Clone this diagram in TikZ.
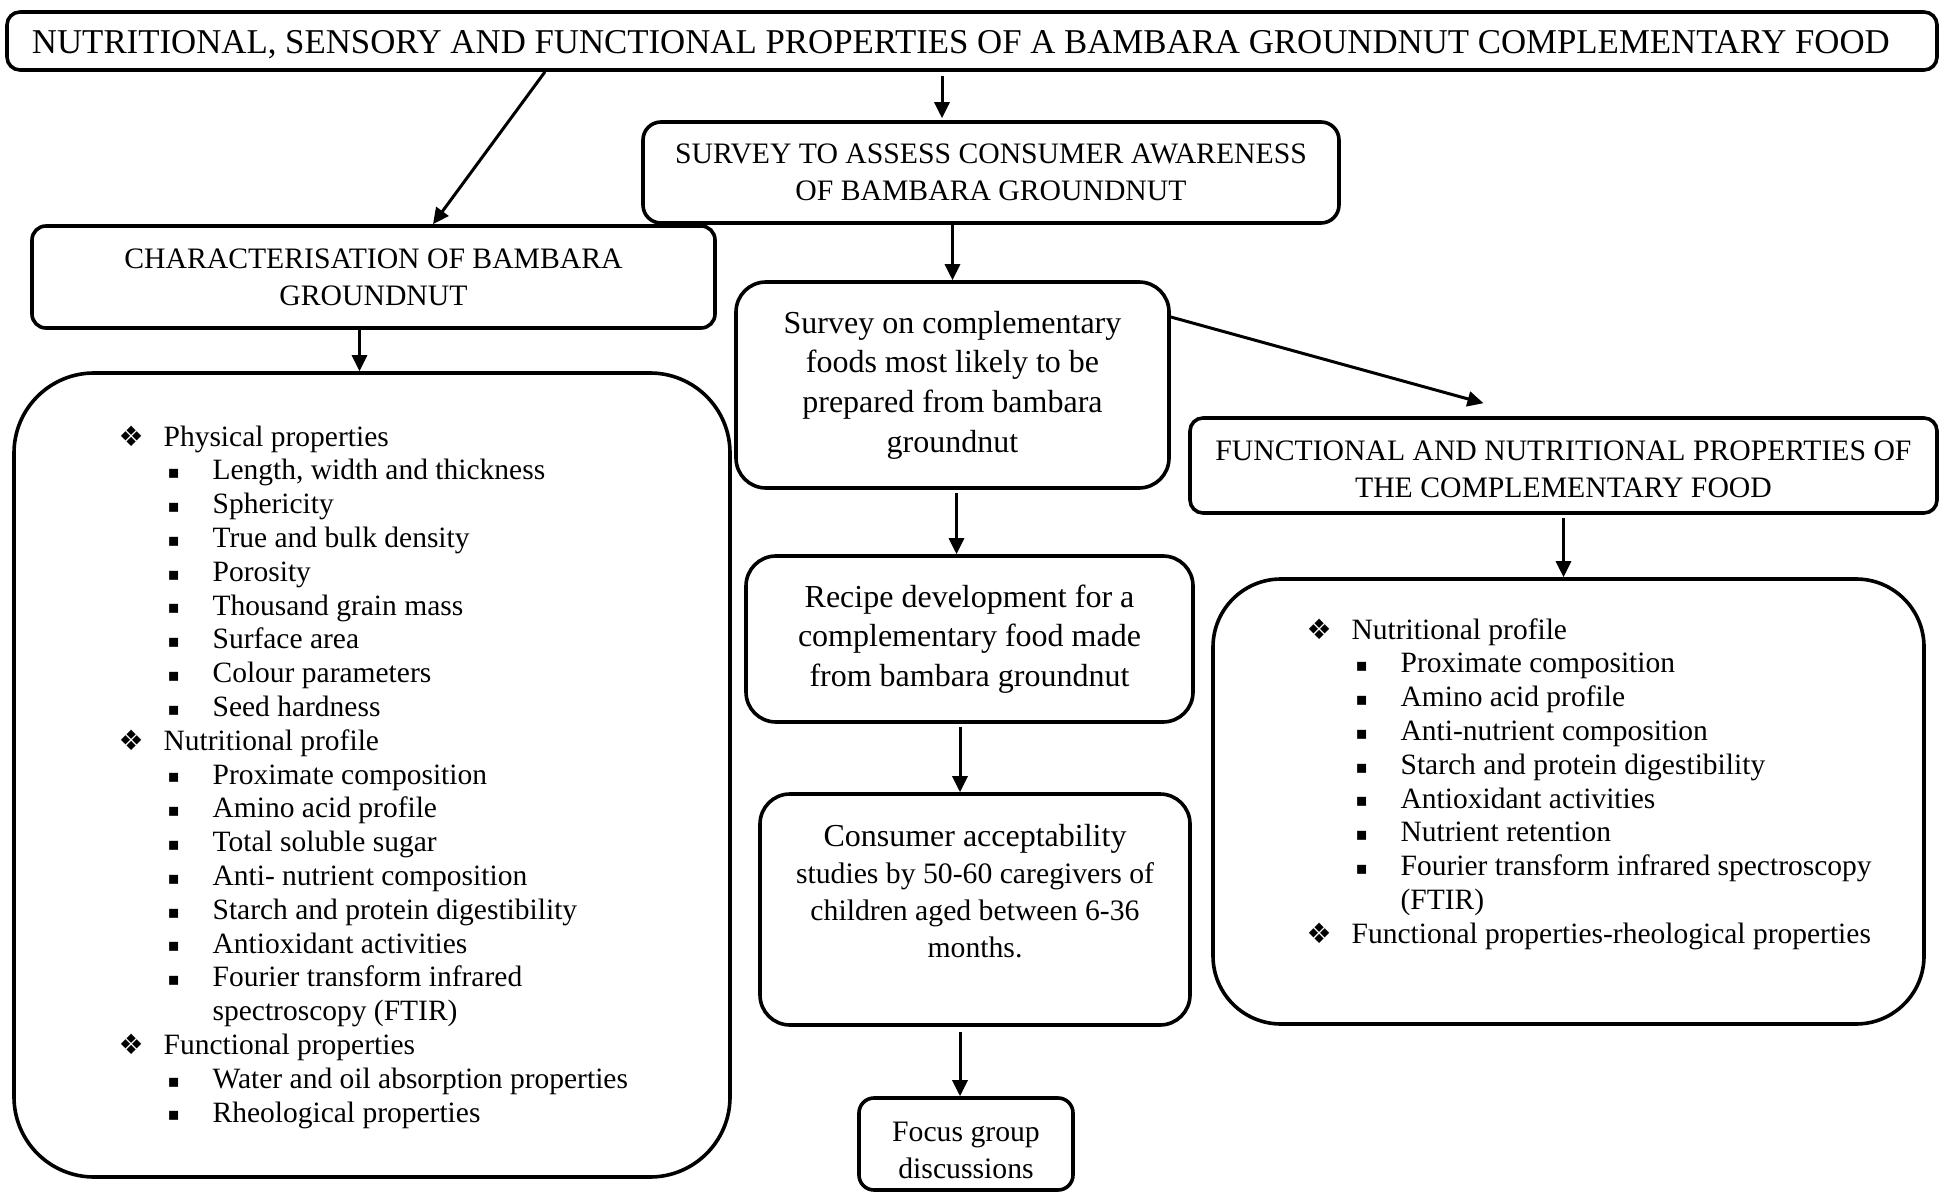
\documentclass[tikz,border=0pt]{standalone}
\usepackage{fontspec}
\setmainfont{Liberation Serif}
\newfontfamily\symfont{DejaVu Sans}
\usetikzlibrary{arrows.meta, positioning}

\newcommand{\itemA}[1]{\makebox[22.5pt][l]{\symfont\fontsize{14}{14}\selectfont ❖}#1}
\newcommand{\itemB}[1]{\hspace*{24.5pt}\makebox[22.5pt][l]{\raisebox{0.6pt}{\symfont\fontsize{9}{9}\selectfont ▪}}#1}
\newcommand{\sinktext}[2]{\raisebox{-#1}[\height][\depth]{#2}}

\tikzset{
    box/.style={draw, line width=1.8pt, rounded corners=7pt, align=center, inner sep=0pt,
        font=\fontsize{14.85}{18.5}\selectfont},
    bigbox/.style={box, rounded corners=15pt, font=\fontsize{16}{19.8}\selectfont},
    itemlist/.style={align=left, inner sep=0pt, font=\fontsize{14.75}{16.9}\selectfont},
    arr/.style={line width=1.5pt, -{Triangle[length=8pt, width=7.5pt]}}
}

\begin{document}
\begin{tikzpicture}[x=0.5pt, y=-0.5pt]
\useasboundingbox (0,0) rectangle (1939,1192);

% top row
\node[box, font=\fontsize{17.4}{20}\selectfont, rounded corners=6.5pt, minimum width=965pt, minimum height=29pt] (title) at (972,41)
    {\hspace*{-11pt}\sinktext{2pt}{NUTRITIONAL, SENSORY AND FUNCTIONAL PROPERTIES OF A BAMBARA GROUNDNUT COMPLEMENTARY FOOD}};
\node[box, rounded corners=9pt, minimum width=348pt, minimum height=50.5pt] (survey) at (991,172.5)
    {SURVEY TO ASSESS CONSUMER AWARENESS\\OF BAMBARA GROUNDNUT};

% left column
\node[box, minimum width=341.5pt, minimum height=51pt] (charact) at (373.5,277)
    {CHARACTERISATION OF BAMBARA\\GROUNDNUT};
\node[box, rounded corners=40pt, minimum width=358pt, minimum height=402pt] (leftbox) at (372,775) {};
\node[itemlist, anchor=west] (leftitems) at ([xshift=53pt, yshift=-1pt]leftbox.west) {%
    \itemA{Physical properties}\\
    \itemB{Length, width and thickness}\\
    \itemB{Sphericity}\\
    \itemB{True and bulk density}\\
    \itemB{Porosity}\\
    \itemB{Thousand grain mass}\\
    \itemB{Surface area}\\
    \itemB{Colour parameters}\\
    \itemB{Seed hardness}\\
    \itemA{Nutritional profile}\\
    \itemB{Proximate composition}\\
    \itemB{Amino acid profile}\\
    \itemB{Total soluble sugar}\\
    \itemB{Anti- nutrient composition}\\
    \itemB{Starch and protein digestibility}\\
    \itemB{Antioxidant activities}\\
    \itemB{Fourier transform infrared}\\
    \hspace*{47pt}spectroscopy (FTIR)\\
    \itemA{Functional properties}\\
    \itemB{Water and oil absorption properties}\\
    \itemB{Rheological properties}};

% middle column
\node[bigbox, minimum width=216.5pt, minimum height=103pt] (food) at (952.5,385)
    {Survey on complementary\\foods most likely to be\\prepared from bambara\\groundnut};
\node[bigbox, minimum width=223.5pt, minimum height=83pt] (recipe) at (969.5,639)
    {Recipe development for a\\complementary food made\\from bambara groundnut};
\node[bigbox, font=\fontsize{14.85}{18.5}\selectfont, minimum width=215pt, minimum height=115.5pt] (consumer) at (975,909.5)
    {{\fontsize{16}{19}\selectfont Consumer acceptability}\\studies by 50-60 caregivers of\\children aged between 6-36\\months.\\\mbox{}};
\node[box, rounded corners=7.5pt, minimum width=107pt, minimum height=46pt] (focus) at (966,1144)
    {\sinktext{3pt}{Focus group}\\\sinktext{3pt}{discussions}};

% right column
\node[box, rounded corners=6.5pt, minimum width=373.5pt, minimum height=47.5pt] (funct) at (1563.5,465.5)
    {\sinktext{2pt}{FUNCTIONAL AND NUTRITIONAL PROPERTIES OF}\\\sinktext{2pt}{THE COMPLEMENTARY FOOD}};
\node[box, rounded corners=34pt, minimum width=355.5pt, minimum height=222.5pt] (rightbox) at (1568.5,801.5) {};
\node[itemlist, anchor=west] (rightitems) at ([xshift=47.5pt, yshift=8.75pt]rightbox.west) {%
    \itemA{Nutritional profile}\\
    \itemB{Proximate composition}\\
    \itemB{Amino acid profile}\\
    \itemB{Anti-nutrient composition}\\
    \itemB{Starch and protein digestibility}\\
    \itemB{Antioxidant activities}\\
    \itemB{Nutrient retention}\\
    \itemB{Fourier transform infrared spectroscopy}\\
    \hspace*{47pt}(FTIR)\\
    \itemA{Functional properties-rheological properties}};

% arrows
\draw[arr] ([xshift=-213.5pt]title.south) -- ([xshift=29.75pt]charact.north);
\draw[arr] ([xshift=-15pt, yshift=-2pt]title.south) -- ([xshift=-24.5pt, yshift=1pt]survey.north);
\draw[arr] (food.north |- survey.south) -- (food.north);
\draw[arr] ([xshift=-7pt]charact.south) -- ([xshift=-7pt]charact.south |- leftbox.north);
\draw[arr] ([yshift=34pt]food.east) -- ([xshift=-40pt, yshift=6.5pt]funct.north);
\draw[arr] ([xshift=2pt, yshift=-1.5pt]food.south) -- ([xshift=2pt]food.south |- recipe.north);
\draw[arr] ([xshift=-4.75pt, yshift=-1.5pt]recipe.south) -- ([xshift=-4.75pt]recipe.south |- consumer.north);
\draw[arr] ([xshift=-7.5pt, yshift=-2.5pt]consumer.south) -- ([xshift=-7.5pt]consumer.south |- focus.north);
\draw[arr] ([yshift=-1.5pt]funct.south) -- (funct.south |- rightbox.north);
\end{tikzpicture}
\end{document}
